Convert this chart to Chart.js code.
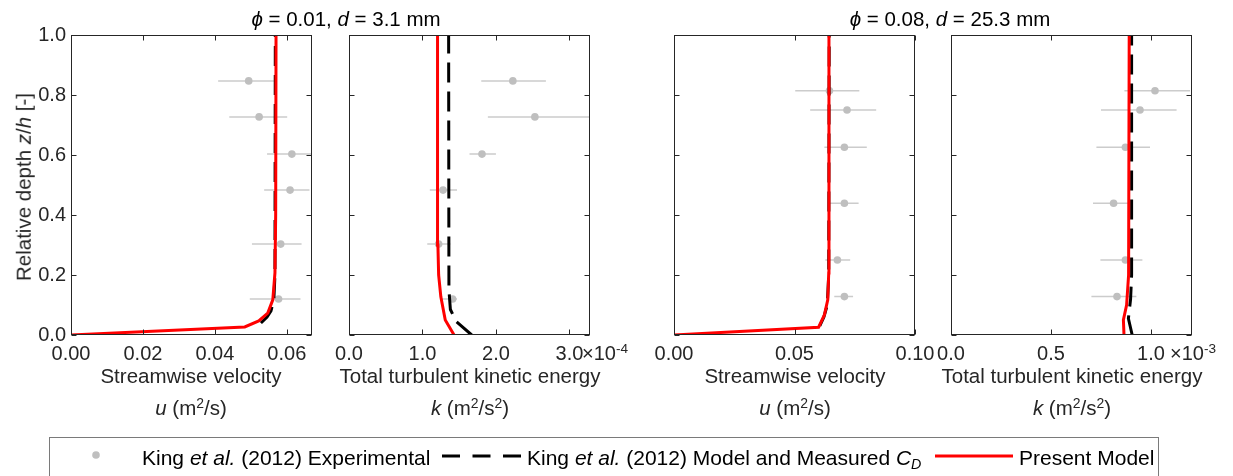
<!DOCTYPE html>
<html>
<head>
<meta charset="utf-8">
<script src="https://cdn.jsdelivr.net/npm/chart.js@4.4.0/dist/chart.umd.min.js"></script>
<style>
body{margin:0;width:1233px;height:476px;overflow:hidden;background:#fff;position:relative;font-family:"Liberation Sans",Arial,sans-serif}
canvas{position:absolute;left:0;top:0}
.t{position:absolute;white-space:nowrap;line-height:1;font-size:20.5px;color:#262626}
.c{transform:translateX(-50%)}
.t sup{font-size:0.68em;vertical-align:0.48em;line-height:0}
.t sub{font-size:0.68em;vertical-align:-0.3em;line-height:0}
#legend{position:absolute;left:49px;top:437px;width:1110px;height:50px;border:1px solid #7a7a7a;box-sizing:border-box}
</style>
</head>
<body>
<canvas id="p1" width="1233" height="476"></canvas>
<canvas id="p2" width="1233" height="476"></canvas>
<canvas id="p3" width="1233" height="476"></canvas>
<canvas id="p4" width="1233" height="476"></canvas>

<div class="t c" style="left:346px;top:9px;color:#000"><i>ϕ</i> = 0.01, <i>d</i> = 3.1 mm</div>
<div class="t c" style="left:950px;top:9px;color:#000"><i>ϕ</i> = 0.08, <i>d</i> = 25.3 mm</div>

<div class="t" style="left:24px;top:187px;transform:translate(-50%,-50%) rotate(-90deg)">Relative depth <i>z</i>/<i>h</i> [-]</div>

<div class="t c" style="left:191px;top:366px">Streamwise velocity</div>
<div class="t c" style="left:191px;top:398px"><i>u</i> (m<sup>2</sup>/s)</div>
<div class="t c" style="left:470px;top:366px">Total turbulent kinetic energy</div>
<div class="t c" style="left:470px;top:398px"><i>k</i> (m<sup>2</sup>/s<sup>2</sup>)</div>
<div class="t c" style="left:795px;top:366px">Streamwise velocity</div>
<div class="t c" style="left:795px;top:398px"><i>u</i> (m<sup>2</sup>/s)</div>
<div class="t c" style="left:1072px;top:366px">Total turbulent kinetic energy</div>
<div class="t c" style="left:1072px;top:398px"><i>k</i> (m<sup>2</sup>/s<sup>2</sup>)</div>

<div class="t" style="left:582px;top:343px;font-size:20px">×10<sup>-4</sup></div>
<div class="t" style="left:1170px;top:343px;font-size:20px">×10<sup>-3</sup></div>

<div id="legend"></div>
<svg style="position:absolute;left:0;top:0" width="1233" height="476">
  <circle cx="96" cy="455" r="3.8" fill="#bfbfbf"/>
  <line x1="442" y1="456" x2="523" y2="456" stroke="#000" stroke-width="3" stroke-dasharray="18 12.5"/>
  <line x1="935" y1="456" x2="1013" y2="456" stroke="#ff0000" stroke-width="3"/>
</svg>
<div class="t" style="left:142px;top:447px;font-size:21px;color:#000">King <i>et al.</i> (2012) Experimental</div>
<div class="t" style="left:527px;top:447px;font-size:21px;color:#000">King <i>et al.</i> (2012) Model and Measured <i>C</i><sub><i>D</i></sub></div>
<div class="t" style="left:1019px;top:447px;font-size:21px;color:#000">Present Model</div>

<script>
// depth axis, shared
const depthTicks=[0,0.2,0.4,0.6,0.8,1.0];

// PHI 0.01, d 3.1 mm
const expDepthA=[0.847,0.727,0.603,0.483,0.303,0.12];
const expUA=[0.0494,0.0523,0.0614,0.0609,0.0583,0.0577];
const expUALo=[0.0409,0.0440,0.0545,0.0537,0.0503,0.0497];
const expUAHi=[0.0564,0.0601,0.0690,0.0663,0.0641,0.0638];
const presDepthUA=[0,0.027,0.047,0.073,0.117,0.207,0.4,1.0];
const presUA=[0,0.0483,0.0522,0.0547,0.0561,0.0567,0.0569,0.0570];
const kingDepthUA=[0.04,0.06,0.08,0.12,0.2,1.0];
const kingUA=[0.0528,0.0545,0.0556,0.0564,0.0567,0.0568];
const uTicksA=[0,0.02,0.04,0.06];

// k in units of 1e-4
const expKA=[2.23,2.53,1.81,1.28,1.22,1.41];
const expKALo=[1.80,1.89,1.64,1.10,1.065,1.24];
const expKAHi=[2.68,3.60,2.00,1.47,1.38,1.47];
const presDepthKA=[0,0.05,0.127,0.2,0.3,1.0];
const presKA=[1.43,1.31,1.25,1.22,1.21,1.205];
const kingDepthKA=[0,0.045,0.085,0.15,1.0];
const kingKA=[1.67,1.46,1.38,1.36,1.356];
const kTicksA=[0,1,2,3];

// PHI 0.08, d 25.3 mm
const expDepthB=[0.814,0.75,0.626,0.439,0.25,0.128];
const expUB=[0.0645,0.0718,0.0707,0.0707,0.0678,0.0707];
const expUBLo=[0.0503,0.0565,0.0624,0.0645,0.0628,0.0665];
const expUBHi=[0.0769,0.0839,0.0800,0.0766,0.0731,0.0743];
const presDepthUB=[0,0.026,0.067,0.117,0.207,1.0];
const presUB=[0,0.0600,0.0624,0.0638,0.0642,0.0643];
const kingDepthUB=[0.03,0.06,0.1,0.2,1.0];
const kingUB=[0.0605,0.0622,0.0636,0.0642,0.0644];
const uTicksB=[0,0.05,0.10];

// k in units of 1e-3
const expKB=[1.02,0.945,0.872,0.813,0.872,0.83];
const expKBLo=[0.867,0.75,0.727,0.71,0.747,0.702];
const expKBHi=[1.195,1.128,0.995,0.892,0.957,0.927];
const presDepthKB=[0,0.05,0.1,0.2,1.0];
const presKB=[0.865,0.862,0.878,0.888,0.891];
const kingDepthKB=[0,0.055,0.12,0.2,1.0];
const kingKB=[0.906,0.887,0.898,0.903,0.903];
const kTicksB=[0,0.5,1.0];

const FONT="'Liberation Sans', Arial, sans-serif";
const INK='#262626';

function pts(ys,xs){ return xs.map((v,i)=>({x:v,y:ys[i]})); }

// horizontal error bars under the markers
const errorBars={
  id:'errorBars',
  beforeDatasetsDraw(chart){
    const {ctx,chartArea:a,scales:{x,y}}=chart;
    chart.data.datasets.forEach(ds=>{
      if(!ds.errLo) return;
      ctx.save();
      ctx.beginPath(); ctx.rect(a.left,a.top,a.right-a.left,a.bottom-a.top); ctx.clip();
      ctx.strokeStyle='#cccccc'; ctx.lineWidth=1.5;
      ctx.beginPath();
      ds.data.forEach((p,i)=>{
        const py=y.getPixelForValue(p.y);
        ctx.moveTo(x.getPixelForValue(ds.errLo[i]),py);
        ctx.lineTo(x.getPixelForValue(ds.errHi[i]),py);
      });
      ctx.stroke();
      ctx.restore();
    });
  }
};

// matlab style box with inward ticks
const frame={
  id:'frame',
  afterDraw(chart){
    const {ctx,chartArea:a,scales:{x,y}}=chart;
    const L=Math.round(a.left)+0.5,R=Math.round(a.right)-0.5,T=Math.round(a.top)+0.5,B=Math.round(a.bottom)-0.5;
    ctx.save();
    ctx.strokeStyle=INK; ctx.lineWidth=1;
    ctx.beginPath();
    x.ticks.forEach(t=>{
      const px=Math.round(x.getPixelForValue(t.value))+0.5;
      ctx.moveTo(px,B); ctx.lineTo(px,B-5);
      ctx.moveTo(px,T); ctx.lineTo(px,T+5);
    });
    y.ticks.forEach(t=>{
      const py=Math.round(y.getPixelForValue(t.value))+0.5;
      ctx.moveTo(L,py); ctx.lineTo(L+5,py);
      ctx.moveTo(R,py); ctx.lineTo(R-5,py);
    });
    ctx.stroke();
    ctx.strokeRect(L,T,R-L,B-T);
    ctx.restore();
  }
};

function panel(id,c){
  const yw=c.yLabels?40:0;
  new Chart(document.getElementById(id),{
    type:'scatter',
    data:{datasets:[
      {data:pts(c.presD,c.pres),showLine:true,borderColor:'#ff0000',borderWidth:3,pointRadius:0,tension:0},
      {data:pts(c.kingD,c.king),showLine:true,borderColor:'#000000',borderWidth:3,borderDash:[20,9],pointRadius:0,tension:0},
      {data:pts(c.expD,c.exp),showLine:false,pointRadius:3.8,pointBorderWidth:0,pointBackgroundColor:'#bfbfbf',errLo:c.lo,errHi:c.hi}
    ]},
    options:{
      responsive:false,animation:false,events:[],
      layout:{padding:{left:c.left-yw,right:1233-c.right,top:35,bottom:476-335-30}},
      plugins:{legend:{display:false},tooltip:{enabled:false},title:{display:false}},
      scales:{
        x:{
          type:'linear',min:0,max:c.xmax,
          grid:{display:false,drawTicks:false},border:{display:false},
          afterBuildTicks:s=>{s.ticks=c.xTicks.map(v=>({value:v}));},
          afterFit:s=>{s.height=30;},
          ticks:{padding:7,color:INK,font:{family:FONT,size:20},maxRotation:0,autoSkip:false,
            callback:v=>Number(v).toFixed(c.dp)}
        },
        y:{
          type:'linear',min:0,max:1,display:c.yLabels,
          grid:{display:false,drawTicks:false},border:{display:false},
          afterBuildTicks:s=>{s.ticks=depthTicks.map(v=>({value:v}));},
          afterFit:s=>{s.width=yw;},
          ticks:{padding:5,color:INK,font:{family:FONT,size:20},autoSkip:false,
            callback:v=>Number(v).toFixed(1)}
        }
      }
    },
    plugins:[errorBars,frame]
  });
}

panel('p1',{left:71,right:312,xmax:0.067,xTicks:uTicksA,dp:2,yLabels:true,
  presD:presDepthUA,pres:presUA,kingD:kingDepthUA,king:kingUA,expD:expDepthA,exp:expUA,lo:expUALo,hi:expUAHi});
panel('p2',{left:349,right:590,xmax:3.28,xTicks:kTicksA,dp:1,yLabels:false,
  presD:presDepthKA,pres:presKA,kingD:kingDepthKA,king:kingKA,expD:expDepthA,exp:expKA,lo:expKALo,hi:expKAHi});
panel('p3',{left:674,right:915,xmax:0.1,xTicks:uTicksB,dp:2,yLabels:false,
  presD:presDepthUB,pres:presUB,kingD:kingDepthUB,king:kingUB,expD:expDepthB,exp:expUB,lo:expUBLo,hi:expUBHi});
panel('p4',{left:951,right:1192,xmax:1.205,xTicks:kTicksB,dp:1,yLabels:false,
  presD:presDepthKB,pres:presKB,kingD:kingDepthKB,king:kingKB,expD:expDepthB,exp:expKB,lo:expKBLo,hi:expKBHi});
</script>
</body>
</html>
